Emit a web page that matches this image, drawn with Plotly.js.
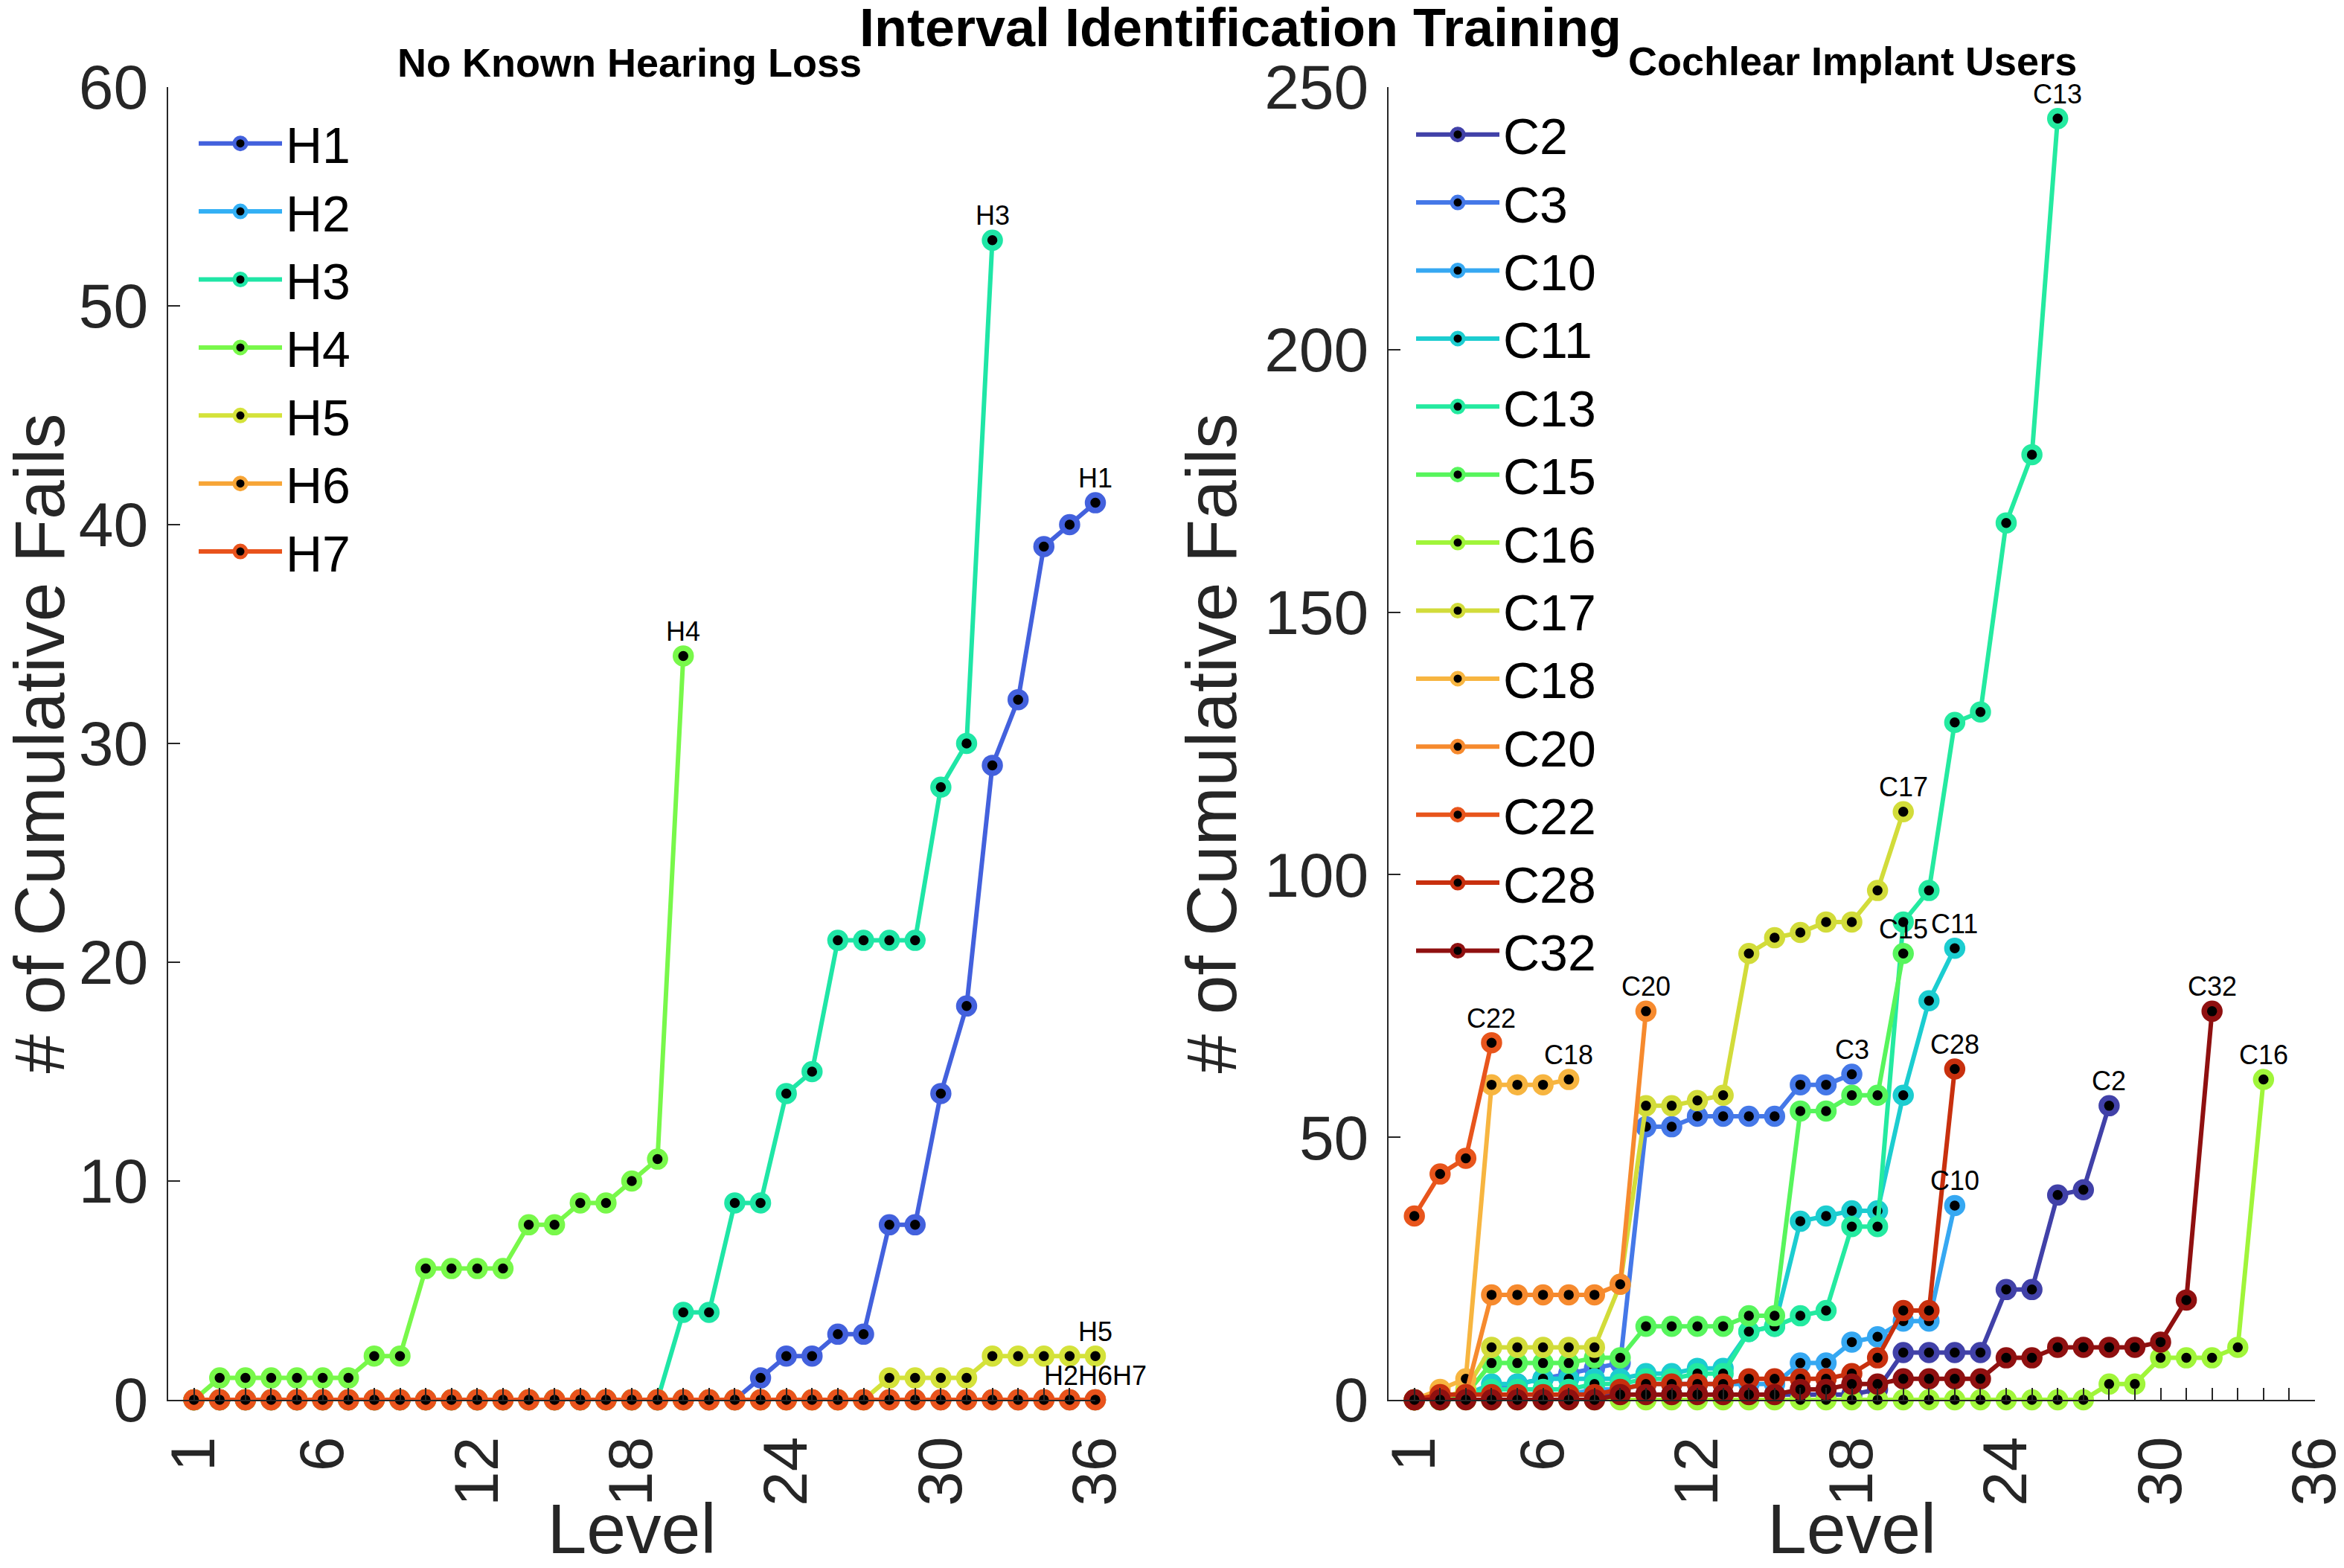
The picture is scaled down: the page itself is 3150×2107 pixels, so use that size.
<!DOCTYPE html>
<html><head><meta charset="utf-8">
<script src="https://cdn.plot.ly/plotly-3.0.1.min.js"></script>
<style>html,body{margin:0;padding:0;background:#fff}#chart{width:3150px;height:2107px}</style>
</head><body><div id="chart"></div>
<script>
// ---------- data ----------
const levels = [1,2,3,4,5,6,7,8,9,10,11,12,13,14,15,16,17,18,19,20,21,22,23,24,25,26,27,28,29,30,31,32,33,34,35,36];
const levelTickVals = [1,6,12,18,24,30,36];
const levelTickText = ['1','6','12','18','24','30','36'];
const leftYTicks = [0,10,20,30,40,50,60];
const rightYTicks = [0,50,100,150,200,250];

const hNames  = ['H1','H2','H3','H4','H5','H6','H7'];
const hColors = ['#4361dd','#33b0f5','#1fe6a6','#78f84a','#d4e23a','#f7a536','#e9531c'];
const H1 = [0,0,0,0,0,0,0,0,0,0,0,0,0,0,0,0,0,0,0,0,0,0,1,2,2,3,3,8,8,14,18,29,32,39,40,41];
const H2 = [0,0,0,0,0,0,0,0,0,0,0,0,0,0,0,0,0,0,0,0,0,0,0,0,0,0,0,0,0,0,0,0,0,0,0,0];
const H3 = [0,0,0,0,0,0,0,0,0,0,0,0,0,0,0,0,0,0,0,4,4,9,9,14,15,21,21,21,21,28,30,53];
const H4 = [0,1,1,1,1,1,1,2,2,6,6,6,6,8,8,9,9,10,11,34];
const H5 = [0,0,0,0,0,0,0,0,0,0,0,0,0,0,0,0,0,0,0,0,0,0,0,0,0,0,0,1,1,1,1,2,2,2,2,2];
const H6 = [0,0,0,0,0,0,0,0,0,0,0,0,0,0,0,0,0,0,0,0,0,0,0,0,0,0,0,0,0,0,0,0,0,0,0,0];
const H7 = [0,0,0,0,0,0,0,0,0,0,0,0,0,0,0,0,0,0,0,0,0,0,0,0,0,0,0,0,0,0,0,0,0,0,0,0];
const hValues = [H1,H2,H3,H4,H5,H6,H7];

const cNames  = ['C2','C3','C10','C11','C13','C15','C16','C17','C18','C20','C22','C28','C32'];
const cColors = ['#4141a8','#4578e8','#36a8f2','#1ccdd0','#24eaa0','#57f55c','#a0f53a','#d2dc3a','#f7b540','#f68a2e','#e8551c','#c8300e','#8f1010'];
const C2  = [0,1,1,1,1,1,1,1,1,1,1,1,1,1,1,1,1,1,2,9,9,9,9,21,21,39,40,56];
const C3  = [0,1,1,2,3,4,5,6,7,52,52,54,54,54,54,60,60,62];
const C10 = [0,0,1,1,1,1,1,2,2,3,3,3,3,3,3,7,7,11,12,15,15,37];
const C11 = [0,0,1,3,3,4,4,4,4,5,5,6,6,13,14,34,35,36,36,58,76,86];
const C13 = [0,0,1,2,2,2,2,3,3,4,4,5,5,13,14,16,17,33,33,91,97,129,131,167,180,244];
const C15 = [0,0,1,7,7,7,7,8,8,14,14,14,14,16,16,55,55,58,58,85];
const C16 = [0,0,0,0,0,0,0,0,0,0,0,0,0,0,0,0,0,0,0,0,0,0,0,0,0,0,0,3,3,8,8,8,10,61];
const C17 = [0,0,2,10,10,10,10,10,22,56,56,57,58,85,88,89,91,91,97,112];
const C18 = [0,2,4,60,60,60,61];
const C20 = [0,1,1,20,20,20,20,20,22,74];
const C22 = [35,43,46,68];
const C28 = [0,1,1,1,1,1,1,1,2,3,3,3,3,4,4,4,4,5,8,17,17,63];
const C32 = [0,0,0,0,0,0,0,0,1,1,1,1,1,1,1,2,2,3,3,4,4,4,4,8,8,10,10,10,10,11,19,74];
const cValues = [C2,C3,C10,C11,C13,C15,C16,C17,C18,C20,C22,C28,C32];

// ---------- build ----------
const FONT = '"Liberation Sans", Arial, Helvetica, sans-serif';
const INK = '#262626';
const traces = [];
const annotations = [];

function addGroup(names, colors, values, xa, ya, legendId) {
  const ends = {};
  names.forEach((n, i) => {
    const y = values[i];
    const x = levels.slice(0, y.length);
    traces.push({
      type: 'scatter', mode: 'lines+markers', name: n,
      x: x, y: y, xaxis: xa, yaxis: ya, legend: legendId,
      cliponaxis: false,
      line: {color: colors[i], width: 6},
      marker: {symbol: 'circle', size: 21, color: '#000000', line: {color: colors[i], width: 7.5}}
    });
    const key = x[x.length - 1] + '|' + y[y.length - 1];
    if (!ends[key]) ends[key] = {x: x[x.length - 1], y: y[y.length - 1], names: []};
    ends[key].names.push(n);
  });
  Object.values(ends).forEach(e => {
    annotations.push({
      xref: xa, yref: ya, x: e.x, y: e.y, text: e.names.join(''),
      showarrow: false, yanchor: 'middle', xanchor: 'center', yshift: 33,
      font: {family: FONT, size: 36, color: '#000000'}
    });
  });
}
addGroup(hNames, hColors, hValues, 'x', 'y', 'legend');
addGroup(cNames, cColors, cValues, 'x2', 'y2', 'legend2');

// subplot titles
annotations.push({xref: 'paper', yref: 'paper', x: (846 - 226) / 2885, y: (1881 - 84) / 1764,
  text: '<b>No Known Hearing Loss</b>', showarrow: false, xanchor: 'center', yanchor: 'middle',
  font: {family: FONT, size: 54, color: '#000000'}});
annotations.push({xref: 'paper', yref: 'paper', x: (2489 - 226) / 2885, y: (1881 - 82) / 1764,
  text: '<b>Cochlear Implant Users</b>', showarrow: false, xanchor: 'center', yanchor: 'middle',
  font: {family: FONT, size: 54, color: '#000000'}});

function xAxis(domain, anchor) {
  return {
    domain: domain, anchor: anchor, range: [0, 36], autorange: false,
    tickmode: 'array', tickvals: levelTickVals, ticktext: levelTickText,
    tickangle: -90, ticks: 'inside', ticklen: 16, tickwidth: 2, tickcolor: INK,
    minor: {tickmode: 'linear', tick0: 0, dtick: 1, ticks: 'inside', ticklen: 16, tickwidth: 2, tickcolor: INK},
    showline: true, linecolor: INK, linewidth: 2, showgrid: false, zeroline: false,
    ticklabelstandoff: 14, ticklabeloverflow: 'allow',
    tickfont: {family: FONT, size: 84, color: INK},
    title: {text: 'Level', font: {family: FONT, size: 95, color: INK}, standoff: 32}
  };
}
function yAxis(range, ticks, anchor, titleStandoff) {
  return {
    anchor: anchor, domain: [0, 1], range: range, autorange: false,
    tickmode: 'array', tickvals: ticks, ticktext: ticks.map(String),
    ticks: 'inside', ticklen: 16, tickwidth: 2, tickcolor: INK,
    showline: true, linecolor: INK, linewidth: 2, showgrid: false, zeroline: false,
    ticklabelstandoff: 8, ticklabeloverflow: 'allow',
    tickfont: {family: FONT, size: 84, color: INK},
    title: {text: '# of Cumulative Fails', font: {family: FONT, size: 95, color: INK}, standoff: titleStandoff}
  };
}

const layout = {
  width: 3150, height: 2107,
  margin: {l: 226, r: 39, t: 117, b: 226, pad: 0},
  paper_bgcolor: '#ffffff', plot_bgcolor: '#ffffff',
  font: {family: FONT, color: INK},
  title: {text: '<b>Interval Identification Training</b>', xref: 'container', yref: 'container',
    x: 1667 / 3150, y: 1 - 37 / 2107, xanchor: 'center', yanchor: 'middle', pad: {t: 0, b: 0},
    font: {family: FONT, size: 72, color: '#000000'}},
  xaxis: xAxis([0, 0.4319], 'y'),
  yaxis: yAxis([0, 60], leftYTicks, 'x', 28),
  xaxis2: xAxis([0.5685, 1], 'y2'),
  yaxis2: yAxis([0, 250], rightYTicks, 'x2', 6),
  legend: {x: (262 - 226) / 2885, y: (1881 - 142) / 1764, xanchor: 'left', yanchor: 'top',
    bgcolor: 'rgba(0,0,0,0)', borderwidth: 0, itemwidth: 112, itemsizing: 'trace',
    font: {family: FONT, size: 68, color: '#000000'}},
  legend2: {x: (1898 - 226) / 2885, y: (1881 - 130) / 1764, xanchor: 'left', yanchor: 'top',
    bgcolor: 'rgba(0,0,0,0)', borderwidth: 0, itemwidth: 112, itemsizing: 'trace',
    font: {family: FONT, size: 68, color: '#000000'}},
  annotations: annotations,
  showlegend: true
};

Plotly.newPlot('chart', traces, layout, {staticPlot: true, displayModeBar: false});
</script>
</body></html>
